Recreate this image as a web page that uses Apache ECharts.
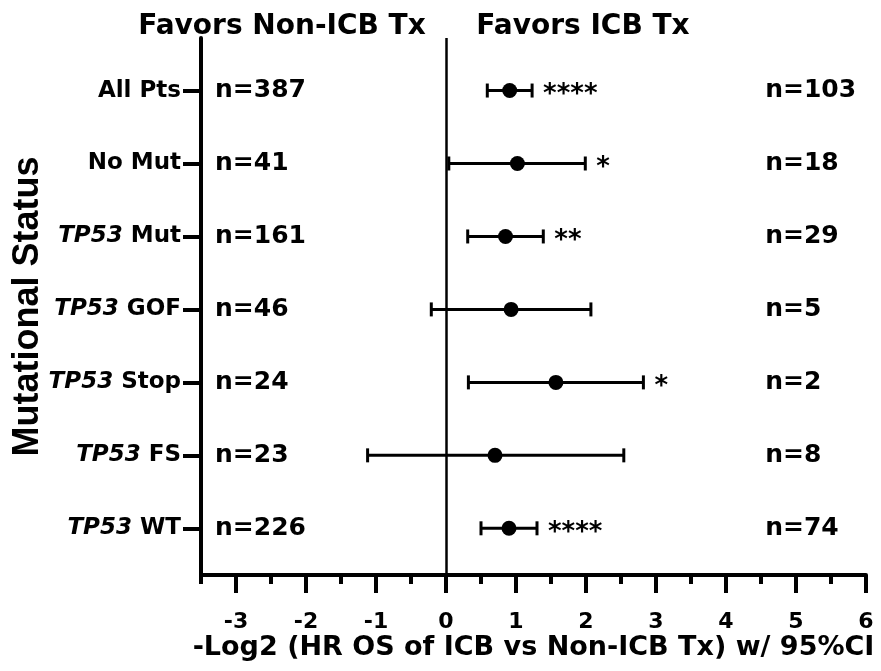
<!DOCTYPE html>
<html>
<head>
<meta charset="utf-8">
<script src="https://cdn.jsdelivr.net/npm/echarts@6/dist/echarts.min.js"></script>
<style>
  html, body { margin: 0; padding: 0; background: #fff; }
  #chart { width: 881px; height: 671px; }
</style>
</head>
<body>
<div id="chart"></div>
<script>
// rows, top to bottom
const categories = ['All Pts', 'No Mut', 'TP53 Mut', 'TP53 GOF', 'TP53 Stop', 'TP53 FS', 'TP53 WT']
const rowIndex = [1, 2, 3, 4, 5, 6, 7]
// -log2(HR) with 95% CI
const estimate = [0.91, 1.02, 0.85, 0.93, 1.57, 0.70, 0.90]
const ciLow = [0.59, 0.04, 0.31, -0.21, 0.32, -1.12, 0.50]
const ciHigh = [1.23, 1.99, 1.39, 2.07, 2.82, 2.54, 1.30]
const stars = ['****', '*', '**', '', '*', '', '****']
// patient counts
const nNonIcb = [387, 41, 161, 46, 24, 23, 226]
const nIcb = [103, 18, 29, 5, 2, 8, 74]
// x axis ticks
const xMajorTicks = [-3, -2, -1, 0, 1, 2, 3, 4, 5, 6]
const xMinorTicks = [-3.5, -2.5, -1.5, -0.5, 0.5, 1.5, 2.5, 3.5, 4.5, 5.5]

const FONT = 'DejaVu Sans'
const chart = echarts.init(document.getElementById('chart'))

// label for the y axis, TP53 in italics
function rowLabel(v) {
  const name = categories[Math.round(v) - 1] || ''
  if (name.indexOf('TP53 ') === 0) {
    return '{i|TP53} ' + name.slice(5)
  }
  return name
}

const nLeftX = -3.3
const nRightX = 4.56

const nLabel = {
  show: true,
  position: 'right',
  distance: 0,
  formatter: p => 'n=' + p.value[2],
  fontFamily: FONT,
  fontWeight: 'bold',
  fontSize: 25,
  color: '#000'
}

chart.setOption({
  animation: false,
  backgroundColor: '#fff',
  title: [
    {
      text: 'Favors Non-ICB Tx',
      left: 277,
      top: 8,
      textAlign: 'center',
      textStyle: { fontFamily: FONT, fontWeight: 'bold', fontSize: 28, color: '#000' }
    },
    {
      text: 'Favors ICB Tx',
      left: 578,
      top: 8,
      textAlign: 'center',
      textStyle: { fontFamily: FONT, fontWeight: 'bold', fontSize: 28, color: '#000' }
    }
  ],
  grid: {
    left: 201,
    right: 15,
    top: 38,
    bottom: 96,
    containLabel: false,
    outerBoundsMode: 'none'
  },
  xAxis: [
    {
      type: 'value',
      min: -3.5,
      max: 6,
      name: '-Log2 (HR OS of ICB vs Non-ICB Tx) w/ 95%CI',
      nameLocation: 'middle',
      nameGap: 59,
      nameMoveOverlap: false,
      nameTextStyle: { fontFamily: FONT, fontWeight: 'bold', fontSize: 27, color: '#000' },
      splitLine: { show: false },
      axisLine: { onZero: false, lineStyle: { color: '#000', width: 4 } },
      axisTick: { customValues: xMajorTicks, length: 18, lineStyle: { color: '#000', width: 4 } },
      axisLabel: {
        customValues: xMajorTicks,
        margin: 36,
        fontFamily: FONT,
        fontWeight: 'bold',
        fontSize: 22,
        color: '#000'
      }
    },
    {
      type: 'value',
      min: -3.5,
      max: 6,
      position: 'bottom',
      splitLine: { show: false },
      axisLine: { show: false, onZero: false },
      axisTick: { customValues: xMinorTicks, length: 9, lineStyle: { color: '#000', width: 4 } },
      axisLabel: { show: false }
    }
  ],
  yAxis: {
    type: 'value',
    inverse: true,
    min: 0.28,
    max: 7.64,
    name: 'Mutational Status',
    nameLocation: 'middle',
    nameRotate: 90,
    nameGap: 155,
    nameMoveOverlap: false,
    nameTextStyle: { fontFamily: 'Liberation Sans', fontWeight: 'bold', fontSize: 36, color: '#000' },
    splitLine: { show: false },
    axisLine: { onZero: false, lineStyle: { color: '#000', width: 4 } },
    axisTick: { customValues: rowIndex, length: 18, lineStyle: { color: '#000', width: 4 } },
    axisLabel: {
      customValues: rowIndex,
      margin: 20,
      fontFamily: FONT,
      fontWeight: 'bold',
      fontSize: 23,
      color: '#000',
      formatter: rowLabel,
      rich: {
        i: { fontFamily: FONT, fontWeight: 'bold', fontStyle: 'italic', fontSize: 23, color: '#000' }
      }
    }
  },
  series: [
    // CI bars with caps and significance stars
    {
      type: 'custom',
      xAxisIndex: 0,
      data: rowIndex.map((r, i) => [ciLow[i], ciHigh[i], r, stars[i]]),
      renderItem: function (params, api) {
        const lo = api.coord([api.value(0), api.value(2)])
        const hi = api.coord([api.value(1), api.value(2)])
        const cap = 7
        const st = { stroke: '#000', lineWidth: 3 }
        return {
          type: 'group',
          children: [
            { type: 'line', shape: { x1: lo[0], y1: lo[1], x2: hi[0], y2: hi[1] }, style: st },
            { type: 'line', shape: { x1: lo[0], y1: lo[1] - cap, x2: lo[0], y2: lo[1] + cap }, style: st },
            { type: 'line', shape: { x1: hi[0], y1: hi[1] - cap, x2: hi[0], y2: hi[1] + cap }, style: st },
            {
              type: 'text',
              x: hi[0] + 11,
              y: hi[1] + 5,
              style: {
                text: stars[params.dataIndex],
                fontFamily: FONT,
                fontWeight: 'bold',
                fontSize: 26,
                fill: '#000',
                align: 'left',
                verticalAlign: 'middle'
              }
            }
          ]
        }
      },
      z: 2
    },
    // point estimates + zero line
    {
      type: 'scatter',
      xAxisIndex: 0,
      data: rowIndex.map((r, i) => [estimate[i], r]),
      symbol: 'circle',
      symbolSize: 15,
      itemStyle: { color: '#000', opacity: 1 },
      z: 3,
      markLine: {
        silent: true,
        symbol: 'none',
        label: { show: false },
        lineStyle: { color: '#000', width: 2.5, type: 'solid', opacity: 1 },
        data: [{ xAxis: 0 }]
      }
    },
    // n, non-ICB
    {
      type: 'scatter',
      xAxisIndex: 0,
      data: rowIndex.map((r, i) => [nLeftX, r, nNonIcb[i]]),
      symbolSize: 0,
      itemStyle: { color: '#000', opacity: 1 },
      label: nLabel
    },
    // n, ICB
    {
      type: 'scatter',
      xAxisIndex: 0,
      data: rowIndex.map((r, i) => [nRightX, r, nIcb[i]]),
      symbolSize: 0,
      itemStyle: { color: '#000', opacity: 1 },
      label: nLabel
    }
  ]
})
</script>
</body>
</html>
